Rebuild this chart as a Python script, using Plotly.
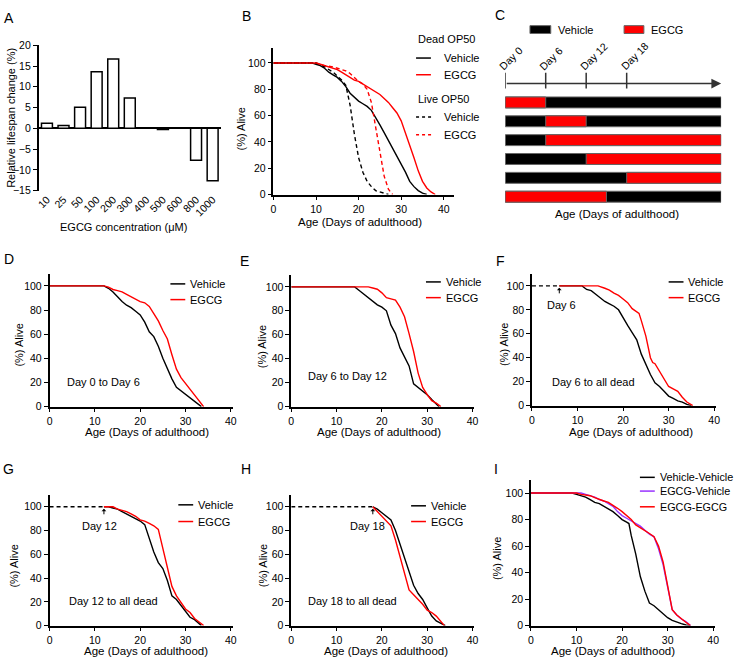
import plotly.graph_objects as go

W, H = 740, 665
FONT = "Liberation Sans, Arial, Helvetica, sans-serif"
RED = "#ff0000"
PURPLE = "#9933ff"

# ---- A: relative lifespan change vs EGCG concentration ----
conc_labels = ["10", "25", "50", "100", "200", "300", "400", "500", "600", "800", "1000"]
lifespan_change = [1.2, 0.7, 5.1, 13.6, 16.7, 7.3, 0.0, -0.3, 0.0, -7.7, -12.6]

# ---- B: dead vs live OP50 ----
b_dead_veh_day = [0, 9, 10, 11, 12, 13, 14, 15, 16, 17, 18, 19, 20, 21, 22, 23, 24, 25, 26, 27, 28, 29, 30, 31, 32, 33, 34, 35, 36]
b_dead_veh_pct = [100, 100, 99, 98, 96, 93, 91, 89, 86, 82, 77, 74, 71, 69, 67, 64, 59, 53, 47, 41, 36, 30, 24, 17, 10, 6, 3, 1, 0]
b_dead_egcg_day = [0, 10, 11, 12, 13, 14, 15, 16, 17, 18, 19, 20, 21, 22, 23, 24, 25, 26, 27, 28, 29, 30, 31, 32, 33, 34, 35, 36, 37, 38]
b_dead_egcg_pct = [100, 100, 99, 98, 97, 96, 95, 93, 91, 89, 87, 86, 84, 82, 80, 78, 76, 73, 70, 66, 62, 56, 47, 38, 28, 18, 10, 5, 2, 0]
b_live_veh_day = [0, 10, 12, 14, 16, 17, 18, 19, 20, 21, 22, 23, 24, 25, 26, 27]
b_live_veh_pct = [100, 100, 97, 93, 87, 83, 68, 46, 28, 17, 10, 6, 3, 2, 1, 0]
b_live_egcg_day = [0, 10, 12, 14, 16, 17, 18, 19, 20, 21, 22, 23, 24, 25, 26, 27, 28]
b_live_egcg_pct = [100, 100, 98, 97, 95, 94, 92, 89, 86, 84, 80, 70, 52, 34, 14, 4, 0]

# ---- C: treatment windows (days) ----
c_total_days = 32
c_egcg_start = [0, 6, 6, 12, 18, 0]
c_egcg_end = [6, 12, 32, 32, 32, 15]
c_day_marks = [0, 6, 12, 18]

# ---- D: Day 0 to Day 6 ----
d_veh_day = [0, 12, 13, 14, 15, 16, 17, 18, 19, 20, 21, 22, 23, 24, 25, 26, 27, 28, 29, 30, 31, 32, 33, 33.5]
d_veh_pct = [100, 100, 98, 95, 91, 87, 84, 82, 79, 76, 70, 62, 58, 50, 40, 31, 23, 16, 13, 10, 7, 4, 1.5, 0]
d_egcg_day = [0, 12, 13, 14, 15, 16, 17, 18, 19, 20, 21, 22, 23, 24, 25, 26, 27, 28, 29, 30, 31, 32, 33, 34]
d_egcg_pct = [100, 100, 99, 97, 96, 95, 93, 91, 89, 87, 86, 83, 77, 71, 63, 56, 43, 31, 24, 19, 14, 10, 5, 0]

# ---- E: Day 6 to Day 12 ----
e_veh_day = [0, 14, 15, 16, 17, 18, 19, 20, 21, 22, 23, 24, 25, 26, 27, 28, 29, 30, 31, 32, 32.6]
e_veh_pct = [100, 100, 97, 94, 91, 88, 85, 83, 80, 68, 61, 49, 42, 34, 19, 16, 13, 10, 6, 2, 0]
e_egcg_day = [0, 17, 18, 19, 20, 21, 22, 23, 24, 25, 26, 27, 28, 29, 30, 31, 32, 33]
e_egcg_pct = [100, 100, 99, 98, 95, 91, 90, 89, 83, 75, 61, 46, 28, 16, 10, 5, 3, 0]

# ---- F: Day 6 to all dead ----
f_pre_day = [0, 6]
f_veh_day = [6, 11, 12, 13, 14, 15, 16, 17, 18, 19, 20, 21, 22, 23, 24, 25, 26, 27, 28, 29, 30, 31, 32, 33, 34, 35]
f_veh_pct = [100, 100, 97, 96, 93, 90, 87, 85, 83, 80, 73, 67, 61, 55, 43, 34, 26, 19, 16, 12, 8, 6, 4, 3, 1, 0]
f_egcg_day = [6, 14.5, 16, 17, 18, 19, 20, 21, 22, 23, 23.5, 24, 25, 26, 26.5, 27, 28, 29, 30, 31, 32, 33, 34, 35.3]
f_egcg_pct = [100, 100, 98, 96.5, 94, 92, 89, 86, 81, 78, 77, 71, 58, 40, 36, 35, 29, 22, 16, 14, 12, 7, 3, 0]

# ---- G: Day 12 to all dead ----
g_pre_day = [0, 12]
g_veh_day = [12, 13, 14, 15, 16, 17, 18, 19, 20, 21, 22, 23, 24, 25, 26, 27, 28, 29, 30, 31, 32, 33, 33.5]
g_veh_pct = [100, 100, 99, 98, 96, 94, 92, 90, 88, 85, 74, 62, 53, 48, 38, 25, 22, 17, 12, 7, 5, 2, 0]
g_egcg_day = [12, 13, 14, 15, 16, 17, 18, 19, 20, 21, 22, 23, 24, 25, 26, 27, 28, 29, 30, 31, 32, 33, 34]
g_egcg_pct = [100, 100, 100, 98, 97, 96, 94, 92, 89, 88, 86, 84, 81, 65, 48, 33, 25, 19, 14, 11, 6, 3, 0]

# ---- H: Day 18 to all dead ----
h_pre_day = [0, 18]
h_veh_day = [18, 19, 20, 21, 22, 23, 24, 25, 26, 27, 28, 29, 30, 31, 32, 33, 34]
h_veh_pct = [100, 98, 95, 92, 89, 80, 68, 56, 44, 34, 27, 22, 15, 8, 4, 2, 0]
h_egcg_day = [18, 19, 20, 21, 22, 23, 24, 25, 26, 27, 28, 29, 30, 31, 32, 33, 33.8]
h_egcg_pct = [100, 96, 92, 88, 84, 72, 58, 44, 30, 26, 22, 18, 13, 11, 8, 3, 0]

# ---- I: switched treatments ----
i_vv_day = [0, 9, 10, 11, 12, 13, 14, 15, 16, 17, 18, 19, 20, 21, 21.5, 22, 23, 24, 25, 26, 27, 28, 29, 30, 31, 32, 33, 34, 35]
i_vv_pct = [100, 100, 99, 98, 97, 95, 93, 92, 90, 88, 86, 83, 80, 78, 77, 68, 54, 37, 26, 17, 15, 12, 9, 6, 4, 2.5, 1.5, 0.5, 0]
i_ev_day = [0, 11, 12, 13, 14, 15, 16, 17, 18, 19, 20, 21, 22, 23, 24, 25, 26, 27, 28, 29, 30, 31, 32, 33, 34, 35]
i_ev_pct = [100, 100, 99, 98, 97, 95, 94, 92, 90, 86, 83, 81, 79, 77, 75, 72, 69, 67, 58, 46, 28, 12, 8, 5, 3, 0]
i_ee_day = [0, 10, 11, 12, 13, 14, 15, 16, 17, 18, 19, 20, 21, 22, 23, 24, 25, 26, 27, 28, 29, 30, 31, 32, 33, 34, 35]
i_ee_pct = [100, 100, 99, 98.5, 98, 96.5, 95, 94, 93, 91, 88.5, 86, 83, 80, 76, 74, 72, 69.5, 67, 60, 48, 30, 12, 8, 5, 2.5, 0]


fig = go.Figure()
layout = {}

AXIS = dict(showline=True, linecolor="black", linewidth=1.5, ticks="outside", ticklen=4,
            tickwidth=1.2, tickcolor="black", showgrid=False, zeroline=False,
            tickfont=dict(size=10.5, color="black", family=FONT), fixedrange=True)


def ax_names(n):
    s = "" if n == 1 else str(n)
    return "x" + s, "y" + s, "xaxis" + s, "yaxis" + s


def setup_axes(n, left, right, top, bottom, xr, yr, xkw=None, ykw=None):
    # left/right/top/bottom in pixels of the 740x665 page
    x, y, xa, ya = ax_names(n)
    layout[xa] = {**AXIS, "domain": [left / W, right / W], "range": xr, "anchor": y, **(xkw or {})}
    layout[ya] = {**AXIS, "domain": [1 - bottom / H, 1 - top / H], "range": yr, "anchor": x, **(ykw or {})}
    return x, y


def text(x, y, s, size=11, **kw):
    kw.setdefault("xanchor", "center")
    kw.setdefault("yanchor", "middle")
    fig.add_annotation(x=x / W, y=1 - y / H, xref="paper", yref="paper", text=s, showarrow=False,
                       font=dict(size=size, color="black", family=FONT), **kw)


def legend(x_px, rows, swatch=15, size=11):
    for label, color, dash, y_px in rows:
        fig.add_shape(type="line", xref="paper", yref="paper", x0=x_px / W, x1=(x_px + swatch) / W,
                      y0=1 - y_px / H, y1=1 - y_px / H, line=dict(color=color, width=1.5, dash=dash))
        text(x_px + swatch + 3, y_px, label, size=size, xanchor="left")


def survival_panel(n, x0, x40, y0, y100, curves, xmax=40.4, ymax=110):
    dx = (x40 - x0) / 40
    dy = (y0 - y100) / 100
    x, y = setup_axes(n, x0, x0 + xmax * dx, y0 - ymax * dy, y0, [0, xmax], [0, ymax],
                      xkw=dict(tickvals=[0, 10, 20, 30, 40]),
                      ykw=dict(tickvals=[0, 20, 40, 60, 80, 100]))
    for days, pct, color, dash in curves:
        fig.add_trace(go.Scatter(x=days, y=pct, mode="lines", xaxis=x, yaxis=y,
                                 line=dict(color=color, width=1.4, dash=dash),
                                 showlegend=False, hoverinfo="skip"))
    return x, y


def start_marker(x, y, day, label_dx):
    fig.add_annotation(x=day, y=100, xref=x, yref=y, text="", showarrow=True, ax=0, ay=9,
                       arrowhead=1, arrowsize=0.8, arrowwidth=1, arrowcolor="black", standoff=2)
    fig.add_annotation(x=day, y=100, xref=x, yref=y, text=f"Day {day}", showarrow=False,
                       xshift=label_dx, yshift=-19, font=dict(size=11, color="black", family=FONT))


# ---------------- A ----------------
setup_axes(1, 36, 220, 40, 188, [-0.5, 10.5], [-15, 20],
           xkw=dict(type="category", showline=False, ticks="", tickangle=-45),
           ykw=dict(tickvals=list(range(-15, 21, 5)), zeroline=True, zerolinecolor="black",
                    zerolinewidth=1.5))
fig.add_trace(go.Bar(x=conc_labels, y=lifespan_change, width=0.66, xaxis="x", yaxis="y",
                     marker=dict(color="white", line=dict(color="black", width=1.5)),
                     showlegend=False, hoverinfo="skip"))
text(6, 12, "A", size=14)
text(8, 114, "Relative lifespan change (%)", textangle=-90)
text(122, 225, "EGCG concentration (μM)")

# ---------------- B ----------------
survival_panel(2, 273, 445, 192, 58, [
    (b_dead_veh_day, b_dead_veh_pct, "black", "solid"),
    (b_dead_egcg_day, b_dead_egcg_pct, RED, "solid"),
    (b_live_veh_day, b_live_veh_pct, "black", "4px,3px"),
    (b_live_egcg_day, b_live_egcg_pct, RED, "4px,3px"),
], xmax=42.5, ymax=111)
text(246, 10, "B", size=14)
text(240, 125, "(%) Alive", textangle=-90)
text(360, 220, "Age (Days of adulthood)", size=11.5)
text(417, 34, "Dead OP50", xanchor="left")
text(417, 95, "Live OP50", xanchor="left")
for label, color, y_px in [("Vehicle", "black", 53), ("EGCG", RED, 70)]:
    fig.add_shape(type="line", xref="paper", yref="paper", x0=417 / W, x1=432 / W,
                  y0=1 - y_px / H, y1=1 - y_px / H, line=dict(color=color, width=1.5))
    text(443, y_px, label, xanchor="left")
for label, color, y_px in [("Vehicle", "black", 113), ("EGCG", RED, 131)]:
    fig.add_shape(type="line", xref="paper", yref="paper", x0=417 / W, x1=433 / W,
                  y0=1 - y_px / H, y1=1 - y_px / H, line=dict(color=color, width=1.5, dash="3px,3px"))
    text(443, y_px, label, xanchor="left")

# ---------------- C ----------------
row_px = 19.2
setup_axes(3, 507, 725, 15, 215, [0, c_total_days], [(215 - 79) / row_px, (15 - 79) / row_px],
           xkw=dict(visible=False), ykw=dict(visible=False))
rows = list(range(1, len(c_egcg_start) + 1))
fig.add_trace(go.Bar(y=rows, x=[c_total_days] * len(rows), base=0, orientation="h", width=0.58,
                     marker=dict(color="black", line=dict(color="#666666", width=1)),
                     xaxis="x3", yaxis="y3", showlegend=False, hoverinfo="skip"))
fig.add_trace(go.Bar(y=rows, x=[e - s for s, e in zip(c_egcg_start, c_egcg_end)], base=c_egcg_start,
                     orientation="h", width=0.58,
                     marker=dict(color=RED, line=dict(color="#666666", width=1)),
                     xaxis="x3", yaxis="y3", showlegend=False, hoverinfo="skip"))
fig.add_annotation(x=c_total_days, y=0, ax=0, ay=0, xref="x3", yref="y3", axref="x3", ayref="y3",
                   text="", showarrow=True, arrowhead=2, arrowsize=1.3, arrowwidth=1.5,
                   arrowcolor="#333333")
tick_top = (68 - 79) / row_px
for d in c_day_marks:
    fig.add_shape(type="line", xref="x3", yref="y3", x0=d, x1=d, y0=tick_top, y1=(84 - 79) / row_px,
                  line=dict(color="#333333", width=1.5))
    label = f"Day {d}"
    L = 10.5 * (2.056 + 0.556 * len(str(d)))
    fig.add_annotation(x=d, y=tick_top, xref="x3", yref="y3", text=label, showarrow=False,
                       textangle=-45, xshift=0.354 * L - 4, yshift=0.354 * L + 5,
                       font=dict(size=10.5, color="black", family=FONT))
text(502, 9, "C", size=14)
fig.add_shape(type="rect", xref="paper", yref="paper", x0=532 / W, x1=553 / W, y0=1 - 28 / H,
              y1=1 - 20 / H, fillcolor="black", line=dict(color="#666666", width=1))
text(558, 24, "Vehicle", xanchor="left")
fig.add_shape(type="rect", xref="paper", yref="paper", x0=627 / W, x1=647 / W, y0=1 - 28 / H,
              y1=1 - 20 / H, fillcolor=RED, line=dict(color="#666666", width=1))
text(652, 24, "EGCG", xanchor="left")
text(620, 212, "Age (Days of adulthood)", size=11.5)

# ---------------- D ----------------
survival_panel(4, 47, 230, 408, 285, [
    (d_veh_day, d_veh_pct, "black", "solid"),
    (d_egcg_day, d_egcg_pct, RED, "solid"),
])
text(6, 258, "D", size=14)
text(16, 345, "(%) Alive", textangle=-90)
text(145, 434, "Age (Days of adulthood)", size=11.5)
text(101, 383, "Day 0 to Day 6")
legend(169, [("Vehicle", "black", "solid", 283), ("EGCG", RED, "solid", 299)])

# ---------------- E ----------------
survival_panel(5, 291, 474, 408, 286, [
    (e_veh_day, e_veh_pct, "black", "solid"),
    (e_egcg_day, e_egcg_pct, RED, "solid"),
])
text(244, 260, "E", size=14)
text(261, 347, "(%) Alive", textangle=-90)
text(380, 434, "Age (Days of adulthood)", size=11.5)
text(348, 377, "Day 6 to Day 12")
legend(427, [("Vehicle", "black", "solid", 281), ("EGCG", RED, "solid", 297)])

# ---------------- F ----------------
fx, fy = survival_panel(6, 534, 718, 407, 285, [
    (f_pre_day, [100, 100], "black", "4px,3px"),
    (f_veh_day, f_veh_pct, "black", "solid"),
    (f_egcg_day, f_egcg_pct, RED, "solid"),
])
start_marker(fx, fy, 6, 2)
text(502, 260, "F", size=14)
text(506, 345, "(%) Alive", textangle=-90)
text(634, 434, "Age (Days of adulthood)", size=11.5)
text(596, 383, "Day 6 to all dead")
legend(672, [("Vehicle", "black", "solid", 281), ("EGCG", RED, "solid", 297)])

# ---------------- G ----------------
gx, gy = survival_panel(7, 47, 230, 631, 510, [
    (g_pre_day, [100, 100], "black", "4px,3px"),
    (g_veh_day, g_veh_pct, "black", "solid"),
    (g_egcg_day, g_egcg_pct, RED, "solid"),
])
start_marker(gx, gy, 12, -4)
text(6, 472, "G", size=14)
text(11, 570, "(%) Alive", textangle=-90)
text(144, 657, "Age (Days of adulthood)", size=11.5)
text(112, 606, "Day 12 to all dead")
legend(177, [("Vehicle", "black", "solid", 508), ("EGCG", RED, "solid", 525)])

# ---------------- H ----------------
hx, hy = survival_panel(8, 291, 474, 631, 510, [
    (h_pre_day, [100, 100], "black", "4px,3px"),
    (h_veh_day, h_veh_pct, "black", "solid"),
    (h_egcg_day, h_egcg_pct, RED, "solid"),
])
start_marker(hx, hy, 18, -5)
text(245, 472, "H", size=14)
text(262, 570, "(%) Alive", textangle=-90)
text(387, 657, "Age (Days of adulthood)", size=11.5)
text(353, 606, "Day 18 to all dead")
legend(412, [("Vehicle", "black", "solid", 509), ("EGCG", RED, "solid", 525)])

# ---------------- I ----------------
survival_panel(9, 533, 717, 631, 496, [
    (i_vv_day, i_vv_pct, "black", "solid"),
    (i_ev_day, i_ev_pct, PURPLE, "solid"),
    (i_ee_day, i_ee_pct, RED, "solid"),
])
text(498, 471, "I", size=14)
text(499, 563, "(%) Alive", textangle=-90)
text(616, 657, "Age (Days of adulthood)", size=11.5)
legend(643, [("Vehicle-Vehicle", "black", "solid", 480), ("EGCG-Vehicle", PURPLE, "solid", 494),
             ("EGCG-EGCG", RED, "solid", 510)], size=10.8)

fig.update_layout(
    width=W, height=H, margin=dict(l=0, r=0, t=0, b=0),
    paper_bgcolor="white", plot_bgcolor="white",
    font=dict(family=FONT, color="black"),
    barmode="overlay", showlegend=False,
    **layout,
)
# drop the browser's default body margin so the page pixels match the figure pixels
fig.write_html("out.html", config={"displayModeBar": False},
               post_script="document.body.style.margin = '0px';")
